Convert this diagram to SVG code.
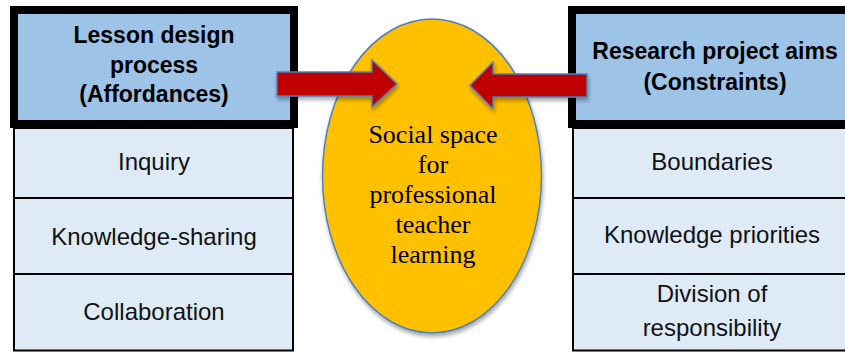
<svg xmlns="http://www.w3.org/2000/svg" width="845" height="352" viewBox="0 0 845 352">
<style>
.hdr{fill:#9DC3E6;stroke:#000;stroke-width:8}
.cell{fill:#DEEBF7;stroke:#000;stroke-width:2}
.ht{font-family:"Liberation Sans",Arial,sans-serif;font-weight:bold;font-size:23px;fill:#000;text-anchor:middle}
.ct{font-family:"Liberation Sans",Arial,sans-serif;font-size:24px;fill:#111;text-anchor:middle}
.et{font-family:"Liberation Serif","Times New Roman",serif;font-size:26px;fill:#000;text-anchor:middle}
.arr{fill:#C00000;stroke:#4F81BD;stroke-width:1.5;stroke-linejoin:miter}
</style>
<defs>
<filter id="sh" x="-20%" y="-20%" width="140%" height="160%">
<feGaussianBlur in="SourceAlpha" stdDeviation="2"/>
<feOffset dx="1" dy="3" result="b"/>
<feComponentTransfer><feFuncA type="linear" slope="0.35"/></feComponentTransfer>
<feMerge><feMergeNode/><feMergeNode in="SourceGraphic"/></feMerge>
</filter>
</defs>
<rect width="845" height="352" fill="#fff"/>
<g id="left-node">
<rect class="cell" x="14" y="128" width="279" height="70"/>
<rect class="cell" x="14" y="198" width="279" height="76"/>
<rect class="cell" x="14" y="274" width="279" height="76.5"/>
<rect class="hdr" x="14" y="10" width="280" height="114"/>
<text class="ht" x="154" y="43">Lesson design</text>
<text class="ht" x="154" y="73">process</text>
<text class="ht" x="154" y="102">(Affordances)</text>
<text class="ct" x="154" y="170">Inquiry</text>
<text class="ct" x="154" y="245">Knowledge-sharing</text>
<text class="ct" x="154" y="320">Collaboration</text>
</g>
<g id="right-node">
<rect class="cell" x="573" y="128" width="279" height="70"/>
<rect class="cell" x="573" y="198" width="279" height="76"/>
<rect class="cell" x="573" y="274" width="279" height="76.5"/>
<rect class="hdr" x="572" y="10" width="290" height="114"/>
<text class="ht" x="715" y="59">Research project aims</text>
<text class="ht" x="715" y="90">(Constraints)</text>
<text class="ct" x="712" y="170">Boundaries</text>
<text class="ct" x="712" y="243">Knowledge priorities</text>
<text class="ct" x="712" y="302">Division of</text>
<text class="ct" x="712" y="336">responsibility</text>
</g>
<g id="center-node">
<ellipse cx="432" cy="176" rx="109.5" ry="157" fill="#FFC000" stroke="#4F81BD" stroke-width="1.5" filter="url(#sh)"/>
<text class="et" x="433" y="143">Social space</text>
<text class="et" x="433" y="173">for</text>
<text class="et" x="433" y="203">professional</text>
<text class="et" x="433" y="233">teacher</text>
<text class="et" x="433" y="263">learning</text>
</g>
<g id="connectors">
<path class="arr" filter="url(#sh)" d="M277,72 L372,72 L372,60 L397,84 L372,107 L372,96 L277,96 Z"/>
<path class="arr" filter="url(#sh)" d="M587,74 L493,74 L493,62 L470,85.5 L493,109 L493,97 L587,97 Z"/>
</g>
</svg>
